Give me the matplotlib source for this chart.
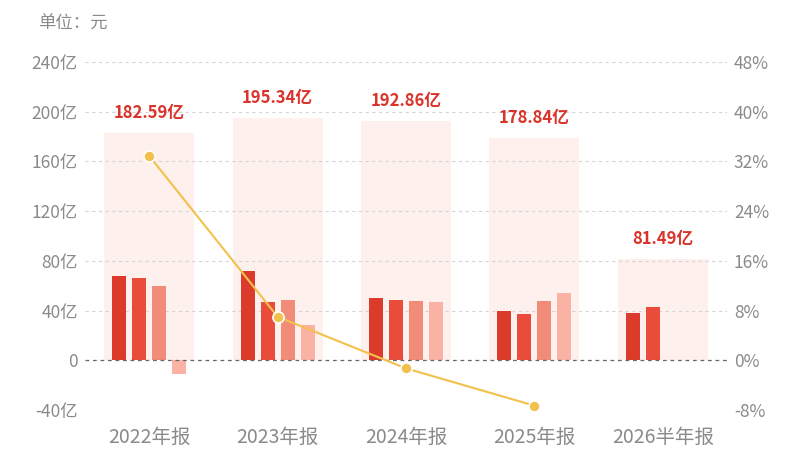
import numpy as np
import matplotlib.pyplot as plt

plt.rcParams['font.family'] = ['Noto Sans CJK SC', 'DejaVu Sans']

# data (亿元 per quarter, growth %)
periods = ["2022年报", "2023年报", "2024年报", "2025年报", "2026半年报"]
totals = [182.59, 195.34, 192.86, 178.84, 81.49]
q1 = [68.0, 71.6, 49.8, 39.6, 38.3]
q2 = [65.9, 46.9, 48.2, 37.5, 43.2]
q3 = [59.4, 48.5, 48.1, 47.7, np.nan]
q4 = [-10.7, 28.3, 46.8, 54.0, np.nan]
growth = [32.9, 7.0, -1.3, -7.3]

left_ticks = [-40, 0, 40, 80, 120, 160, 200, 240]
right_ticks = [-8, 0, 8, 16, 24, 32, 40, 48]

bar_colors = ["#DC3A2A", "#EA4C3B", "#F08C78", "#F9B2A4"]
band_color = "#FEF0EC"
grey = "#8A8A8A"

fig = plt.figure(figsize=(8, 4.5), dpi=100)
ax = fig.add_axes([85/800, 1 - 410/450, 642/800, 348/450])
ax2 = ax.twinx()

x = np.arange(len(periods))

# background total bands
ax.bar(x, totals, width=0.70, color=band_color, zorder=1)

# grid
for t in left_ticks:
    if t == 0:
        continue
    ax.axhline(t, color="#D5D5D5", lw=0.8, ls=(0, (3, 3)), zorder=2)

# quarterly bars
step = 0.156
w = 0.109
for i, vals in enumerate([q1, q2, q3, q4]):
    ax.bar(x + (i - 1.5) * step, vals, width=w, color=bar_colors[i], zorder=3)

ax.axhline(0, color="#666666", lw=0.9, ls=(0, (3, 3)), zorder=4)

for xi, t in zip(x, totals):
    ax.text(xi, t + 16, f"{t:.2f}亿", ha="center", va="center",
            color="#D9332A", fontsize=12, fontweight="bold", zorder=5)

ax.set_xlim(-0.5, len(periods) - 0.5)
ax.set_ylim(-40, 240)
ax.set_yticks(left_ticks)
ax.set_yticklabels([("0" if t == 0 else f"{t}亿") for t in left_ticks])
ax.set_xticks(x)
ax.set_xticklabels(periods)

ax2.set_ylim(-8, 48)
ax2.set_yticks(right_ticks)
ax2.set_yticklabels([f"{t}%" for t in right_ticks])
ax2.plot(x[:len(growth)], growth, color="#F2C14B", lw=1.5, marker="o",
         markersize=8, markerfacecolor="#F2C14B", markeredgecolor="white",
         markeredgewidth=1.2, zorder=6)

for a in (ax, ax2):
    for s in a.spines.values():
        s.set_visible(False)
    a.tick_params(length=0, colors=grey, labelsize=12.5)
ax.tick_params(axis="y", pad=5)
ax2.tick_params(axis="y", pad=5)
ax.tick_params(axis="x", pad=12, labelsize=14)
ax.set_zorder(1)
ax2.set_zorder(2)
ax2.patch.set_visible(False)

fig.text(38/800, 1 - 24/450, "单位：元", color=grey, fontsize=12.5, va="center")

fig.savefig("out.png", dpi=100)
